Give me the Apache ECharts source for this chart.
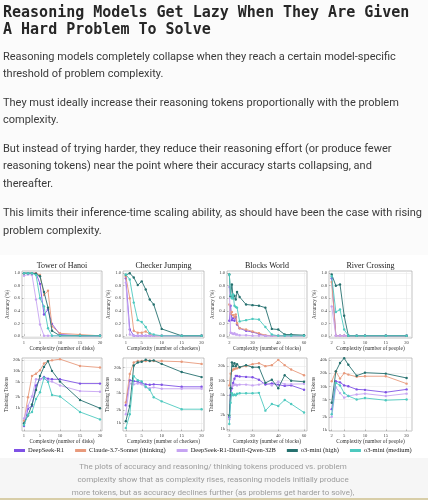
<!DOCTYPE html>
<html>
<head>
<meta charset="utf-8">
<script src="https://cdn.jsdelivr.net/npm/echarts@6/dist/echarts.min.js"></script>
<style>
  html, body { margin: 0; padding: 0; background: #fbfbfb; }
  #chart { width: 428px; height: 500px; }
</style>
</head>
<body>
<div id="chart"></div>
<script>
// ---- data ----
const titleLines = ['Reasoning Models Get Lazy When They Are Given', 'A Hard Problem To Solve']
const bodyLines = [
  'Reasoning models completely collapse when they reach a certain model-specific',
  'threshold of problem complexity.',
  'They must ideally increase their reasoning tokens proportionally with the problem',
  'complexity.',
  'But instead of trying harder, they reduce their reasoning effort (or produce fewer',
  'reasoning tokens) near the point where their accuracy starts collapsing, and',
  'thereafter.',
  'This limits their inference-time scaling ability, as should have been the case with rising',
  'problem complexity.'
]
const captionLines = [
  'The plots of accuracy and reasoning/ thinking tokens produced vs. problem',
  'complexity show that as complexity rises, reasoning models initially produce',
  'more tokens, but as accuracy declines further (as problems get harder to solve),'
]
const seriesNames = ['DeepSeek-R1', 'Claude-3.7-Sonnet (thinking)', 'DeepSeek-R1-Distill-Qwen-32B', 'o3-mini (high)', 'o3-mini (medium)']
const puzzleTitles = ['Tower of Hanoi', 'Checker Jumping', 'Blocks World', 'River Crossing']
const xNames = ['Complexity (number of disks)', 'Complexity (number of checkers)', 'Complexity (number of blocks)', 'Complexity (number of people)']
const accTicks = [0, 0.2, 0.4, 0.6, 0.8, 1.0]

const hanoiX = [1, 2, 3, 4, 5, 6, 7, 8, 10, 15, 20]
const hanoiXTicks = [1, 5, 10, 15, 20]
const hanoiAccR1 = [1.0, 1.0, 1.0, 1.0, 0.83, 0.34, 0.42, 0.19, 0.02, 0, 0]
const hanoiAccClaude = [1.0, 1.0, 1.0, 1.0, 0.97, 0.65, 0.72, 0.15, 0.04, 0.02, 0]
const hanoiAccDistill = [0.96, 0.98, 0.97, 0.58, 0.18, 0, 0, 0, 0, 0, 0]
const hanoiAccHigh = [1.0, 1.0, 1.0, 0.99, 0.95, 0.7, 0.45, 0.08, 0, 0, 0]
const hanoiAccMed = [1.0, 1.0, 1.0, 0.97, 0.6, 0.47, 0.12, 0, 0, 0, 0]
const hanoiTokR1 = [310, 920, 1100, 4000, 5900, 6800, 6100, 5900, 5900, 4500, 4500]
const hanoiTokClaude = [430, 1900, 7300, 8400, 10400, 16000, 18600, 19500, 21000, 13700, 12400]
const hanoiTokDistill = [500, 1100, 2000, 5900, 5900, 6100, 5400, 5100, 4000, 2800, 2700]
const hanoiTokHigh = [370, 600, 1200, 3000, 7300, 12900, 18600, 10000, 5100, 1600, 950]
const hanoiTokMed = [330, 630, 750, 1700, 2600, 6500, 5000, 2200, 2000, 750, 470]
const hanoiTokTicks = [1000, 2000, 5000, 10000, 20000]

const checkerX = [1, 2, 3, 4, 5, 6, 7, 8, 10, 15, 20]
const checkerXTicks = [1, 5, 10, 15, 20]
const checkerAccR1 = [0.92, 0.1, 0, 0, 0, 0, 0, 0, 0, 0, 0]
const checkerAccClaude = [0.95, 0.6, 0.08, 0.05, 0.05, 0.07, 0.03, 0, 0, 0, 0]
const checkerAccDistill = [0.85, 0.02, 0, 0, 0, 0, 0, 0, 0, 0, 0]
const checkerAccHigh = [0.97, 1.0, 0.93, 0.81, 0.87, 0.74, 0.58, 0.5, 0.11, 0, 0]
const checkerAccMed = [0.98, 0.9, 0.53, 0.25, 0.22, 0.14, 0.04, 0.02, 0, 0, 0]
const checkerTokR1 = [2600, 10000, 9500, 9200, 8500, 8000, 7800, 8000, 7800, 7000, 7000]
const checkerTokClaude = [3000, 14000, 26000, 28000, 28000, 28000, 29000, 28000, 28000, 27000, 24000]
const checkerTokDistill = [1600, 8400, 8000, 8400, 8000, 6800, 6500, 6800, 6300, 6300, 6300]
const checkerTokHigh = [1100, 2500, 22000, 26000, 27000, 30000, 28000, 29000, 24000, 15500, 11800]
const checkerTokMed = [760, 1600, 12400, 10000, 9400, 7000, 6000, 4000, 3200, 2100, 2100]
const checkerTokTicks = [1000, 2000, 5000, 10000, 20000]

const blocksX = [2, 3, 4, 5, 6, 7, 8, 10, 15, 20, 25, 30, 35, 40, 45, 50, 60]
const blocksXTicks = [2, 20, 40, 60]
const blocksAccR1 = [0.24, 0.48, 0.25, 0.28, 0.24, 0.3, 0.18, 0.12, 0.08, 0.06, 0.03, 0, 0, 0, 0, 0, 0]
const blocksAccClaude = [0.5, 0.35, 0.38, 0.33, 0.3, 0.34, 0.2, 0.12, 0.1, 0.07, 0.04, 0.01, 0, 0, 0, 0, 0]
const blocksAccDistill = [0.78, 0.05, 0.04, 0.03, 0.04, 0.02, 0.02, 0.01, 0.01, 0, 0, 0, 0, 0, 0, 0, 0]
const blocksAccHigh = [0.98, 0.63, 0.82, 0.6, 0.64, 0.58, 0.7, 0.62, 0.5, 0.49, 0.48, 0.45, 0.11, 0.1, 0.02, 0.02, 0.01]
const blocksAccMed = [0.98, 0.65, 0.6, 0.66, 0.48, 0.46, 0.45, 0.23, 0.25, 0.27, 0.26, 0.14, 0.02, 0, 0, 0, 0]
const blocksTokR1 = [1750, 5000, 7000, 9000, 11000, 12600, 12500, 12200, 12000, 11800, 10500, 8300, 8800, 8300, 7800, 8000, 6500]
const blocksTokClaude = [8000, 14000, 16000, 17000, 17500, 18000, 18000, 19000, 20000, 22000, 23000, 20000, 21000, 27000, 21000, 17000, 13000]
const blocksTokDistill = [1600, 6900, 7500, 8000, 8300, 8300, 8000, 8300, 8300, 8000, 8300, 9000, 8000, 9500, 8500, 8500, 8600]
const blocksTokHigh = [1900, 7000, 24000, 20000, 23000, 20000, 22000, 19000, 21000, 19000, 19000, 9000, 10500, 7000, 13000, 10000, 9500]
const blocksTokMed = [1270, 3500, 5500, 5000, 5200, 5000, 5400, 5500, 5500, 5500, 5600, 2400, 3300, 3000, 4000, 3300, 2200]
const blocksTokTicks = [1000, 2000, 5000, 10000, 20000]

const riverX = [2, 3, 4, 5, 6, 8, 10, 15, 20]
const riverXTicks = [2, 5, 10, 15, 20]
const riverAccR1 = [0.92, 0, 0, 0, 0, 0, 0, 0, 0]
const riverAccClaude = [0.86, 0, 0, 0, 0, 0, 0, 0, 0]
const riverAccDistill = [0.47, 0, 0, 0, 0, 0, 0, 0, 0]
const riverAccHigh = [0.98, 0.8, 0.82, 0.32, 0, 0, 0, 0, 0]
const riverAccMed = [0.95, 0.38, 0.42, 0.1, 0, 0, 0, 0, 0]
const riverTokR1 = [3000, 13000, 12300, 10500, 10000, 8500, 8300, 7300, 8500]
const riverTokClaude = [13000, 22000, 15000, 20000, 18500, 16500, 17000, 17000, 11500]
const riverTokDistill = [2000, 9500, 7000, 5500, 6000, 6500, 6800, 6000, 6800]
const riverTokHigh = [4200, 22000, 34000, 44000, 31000, 17500, 20500, 19500, 15500]
const riverTokMed = [2300, 12000, 10500, 7000, 6000, 5000, 5400, 4800, 5000]
const riverTokTicks = [1000, 2000, 5000, 10000, 20000, 40000]

// ---- styling ----
const colors = ['#7f52e5', '#e89a7c', '#c6a4f2', '#26716f', '#4ec9bf']
const serif = 'Liberation Serif'
const plotLeft = [22, 123, 227, 329]
const plotWidth = [80, 81, 80, 83]
const xRange = [[0.5, 20.5], [0.3, 20.6], [0.2, 62.3], [1.35, 21.3]]
const tokRange = [[226, 22600], [650, 33000], [910, 29500], [950, 44400]]

const panels = [
  { xs: hanoiX, xTicks: hanoiXTicks, acc: [hanoiAccR1, hanoiAccClaude, hanoiAccDistill, hanoiAccHigh, hanoiAccMed], tok: [hanoiTokR1, hanoiTokClaude, hanoiTokDistill, hanoiTokHigh, hanoiTokMed], tokTicks: hanoiTokTicks },
  { xs: checkerX, xTicks: checkerXTicks, acc: [checkerAccR1, checkerAccClaude, checkerAccDistill, checkerAccHigh, checkerAccMed], tok: [checkerTokR1, checkerTokClaude, checkerTokDistill, checkerTokHigh, checkerTokMed], tokTicks: checkerTokTicks },
  { xs: blocksX, xTicks: blocksXTicks, acc: [blocksAccR1, blocksAccClaude, blocksAccDistill, blocksAccHigh, blocksAccMed], tok: [blocksTokR1, blocksTokClaude, blocksTokDistill, blocksTokHigh, blocksTokMed], tokTicks: blocksTokTicks },
  { xs: riverX, xTicks: riverXTicks, acc: [riverAccR1, riverAccClaude, riverAccDistill, riverAccHigh, riverAccMed], tok: [riverTokR1, riverTokClaude, riverTokDistill, riverTokHigh, riverTokMed], tokTicks: riverTokTicks }
]

const tickLabel = { fontSize: 4.6, fontFamily: serif, color: '#444', margin: 2 }
const gridLine = { show: true, lineStyle: { color: '#e4e4e4', width: 0.5 } }

const grids = []
const xAxes = []
const yAxes = []
const series = []

panels.forEach((p, i) => {
  // two rows: accuracy on top, thinking tokens below
  ;[0, 1].forEach(row => {
    const gi = grids.length
    grids.push({
      left: plotLeft[i], width: plotWidth[i],
      top: row === 0 ? 271 : 358, height: row === 0 ? 67 : 73,
      show: true, borderColor: '#9a9a9a', borderWidth: 0.6, backgroundColor: '#fff'
    })
    xAxes.push({
      type: 'value', gridIndex: gi, min: xRange[i][0], max: xRange[i][1],
      name: xNames[i], nameLocation: 'middle', nameGap: 7,
      nameTextStyle: { fontSize: 5.4, fontFamily: serif, color: '#333' },
      axisLine: { show: false },
      axisTick: { show: true, inside: true, length: 1.5, customValues: p.xTicks, lineStyle: { color: '#777', width: 0.5 } },
      axisLabel: Object.assign({ customValues: p.xTicks }, tickLabel),
      splitLine: gridLine
    })
    if (row === 0) {
      yAxes.push({
        type: 'value', gridIndex: gi, min: -0.035, max: 1.035,
        name: 'Accuracy (%)', nameLocation: 'middle', nameGap: 12,
        nameTextStyle: { fontSize: 5.2, fontFamily: serif, color: '#333' },
        axisLine: { show: false },
        axisTick: { show: true, inside: true, length: 1.5, customValues: accTicks, lineStyle: { color: '#777', width: 0.5 } },
        axisLabel: Object.assign({ customValues: accTicks, formatter: v => v.toFixed(1) }, tickLabel),
        splitLine: gridLine
      })
    } else {
      yAxes.push({
        type: 'log', logBase: 10, gridIndex: gi, min: tokRange[i][0], max: tokRange[i][1],
        name: 'Thinking Tokens', nameLocation: 'middle', nameGap: 12,
        nameTextStyle: { fontSize: 5.2, fontFamily: serif, color: '#333' },
        axisLine: { show: false },
        axisTick: { show: true, inside: true, length: 1.5, customValues: p.tokTicks, lineStyle: { color: '#777', width: 0.5 } },
        axisLabel: Object.assign({ customValues: p.tokTicks, formatter: v => Math.round(v / 1000) + 'k' }, tickLabel),
        splitLine: gridLine
      })
    }
    const values = row === 0 ? p.acc : p.tok
    values.forEach((ys, k) => {
      series.push({
        type: 'line', name: seriesNames[k], xAxisIndex: gi, yAxisIndex: gi,
        data: p.xs.map((x, j) => [x, ys[j]]),
        symbol: 'circle', symbolSize: 2.4, showSymbol: true,
        lineStyle: { width: 0.9, color: colors[k] },
        itemStyle: { color: colors[k] },
        animation: false, z: 2 + k
      })
    })
  })
})

const graphics = [
  { type: 'rect', z: -1, shape: { x: 0, y: 255, width: 428, height: 203 }, style: { fill: '#ffffff' } },
  { type: 'rect', z: -1, shape: { x: 0, y: 458, width: 428, height: 40 }, style: { fill: '#f6f6f6' } },
  { type: 'rect', z: -1, shape: { x: 0, y: 498, width: 428, height: 2 }, style: { fill: '#d8cea8' } }
]
titleLines.forEach((t, i) => {
  graphics.push({ type: 'text', style: { text: t, x: 3, y: 13 + i * 17, textVerticalAlign: 'middle', fill: '#262626', font: 'bold 15px "DejaVu Sans Mono"' } })
})
const bodyY = [57, 74, 103, 120, 149, 166.5, 184, 213.5, 231]
bodyLines.forEach((t, i) => {
  graphics.push({ type: 'text', style: { text: t, x: 3, y: bodyY[i], textVerticalAlign: 'middle', fill: '#3a3a3a', font: '11px Roboto' } })
})
puzzleTitles.forEach((t, i) => {
  graphics.push({ type: 'text', style: { text: t, x: plotLeft[i] + plotWidth[i] / 2, y: 266, textAlign: 'center', textVerticalAlign: 'middle', fill: '#222', font: '8px "' + serif + '"' } })
})
captionLines.forEach((t, i) => {
  graphics.push({ type: 'text', style: { text: t, x: 213, y: 467 + i * 13, textAlign: 'center', textVerticalAlign: 'middle', fill: '#9c9c9c', font: '8px Roboto' } })
})

const myChart = echarts.init(document.getElementById('chart'))
const option = {
  backgroundColor: '#fbfbfb',
  animation: false,
  color: colors,
  grid: grids,
  xAxis: xAxes,
  yAxis: yAxes,
  legend: {
    data: seriesNames, left: 14, top: 447, width: 414, padding: 0,
    itemWidth: 11, itemHeight: 3, icon: 'rect', itemGap: 11,
    textStyle: { fontSize: 6.5, fontFamily: serif, color: '#222', padding: [0, 0, 0, -2] }
  },
  graphic: graphics,
  series: series
}
myChart.setOption(option)
window.addEventListener('resize', function () {
  myChart.resize()
})
</script>
</body>
</html>
